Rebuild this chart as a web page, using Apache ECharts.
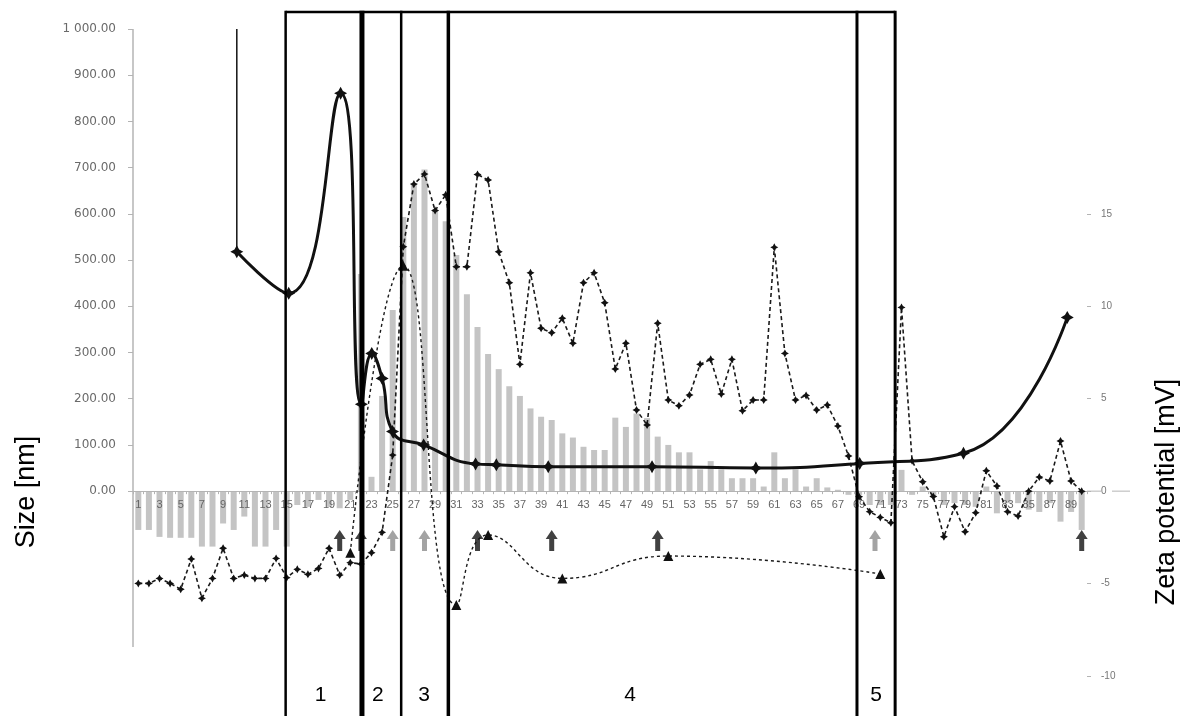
<!DOCTYPE html>
<html>
<head>
<meta charset="utf-8">
<script src="https://cdn.jsdelivr.net/npm/echarts@6/dist/echarts.min.js"></script>
<style>
html,body{margin:0;padding:0;background:#ffffff;}
#main{width:1184px;height:716px;}
</style>
</head>
<body>
<div id="main"></div>
<script>
// ---------------- data ----------------
const categories = ['1','2','3','4','5','6','7','8','9','10','11','12','13','14','15','16','17','18','19','20',
  '21','22','23','24','25','26','27','28','29','30','31','32','33','34','35','36','37','38','39','40',
  '41','42','43','44','45','46','47','48','49','50','51','52','53','54','55','56','57','58','59','60',
  '61','62','63','64','65','66','67','68','69','70','71','72','73','74','75','76','77','78','79','80',
  '81','82','83','84','85','86','87','88','89','90'];

// grey bars (left axis, nm)
const barValues = [-84,-84,-99,-101,-101,-101,-120,-120,-70,-84,
  -55,-120,-120,-84,-120,-30,-34,-19,-34,-37,
  -19,470,31,206,392,593,664,696,608,584,
  511,426,355,297,264,227,206,179,161,154,
  125,116,96,89,89,159,139,168,158,118,
  100,84,84,47,65,47,28,28,28,10,
  84,28,47,10,28,8,3,-8,-8,-30,
  -30,-30,46,-8,10,-10,-30,-26,-30,-34,
  10,-48,-26,-26,-40,-45,-26,-66,-45,-84];

// dashed line with star markers (right axis, mV), one value per category
const zetaFractions = [-4.99,-4.99,-4.72,-4.99,-5.31,-3.67,-5.80,-4.72,-3.09,-4.72,
  -4.54,-4.72,-4.72,-3.64,-4.68,-4.23,-4.50,-4.18,-3.09,-4.54,
  -3.87,-3.94,-3.33,-2.23,1.95,13.22,16.61,17.15,15.18,16.03,
  12.14,12.14,17.13,16.83,12.95,11.27,6.86,11.81,8.81,8.57,
  9.35,8.00,11.27,11.81,10.19,6.61,8.00,4.39,3.58,9.08,
  4.93,4.62,5.20,6.86,7.13,5.25,7.13,4.35,4.93,4.93,
  13.19,7.45,4.93,5.18,4.39,4.66,3.52,1.90,-0.30,-1.11,
  -1.42,-1.71,9.94,1.64,0.51,-0.29,-2.47,-0.84,-2.20,-1.17,
  1.10,0.28,-1.11,-1.35,0.00,0.76,0.55,2.71,0.55,-0.01];

// dashed smooth line with triangles (right axis, mV), at category positions
const zetaPoolX = [21, 26, 31, 34, 41, 51, 71];
const zetaPoolY = [-3.33, 12.19, -6.16, -2.37, -4.72, -3.51, -4.48];

// solid smooth size line (left axis, nm), on its own x scale
const sizeX = [10, 15, 20, 22, 23, 24, 25, 28, 33, 35, 40, 50, 60, 70, 80, 90];
const sizeY = [518, 428, 861, 188, 298, 244, 129, 100, 59, 57, 53, 53, 50, 60, 82, 376];
const sizeErrX = 10;
const sizeErrTop = 1000;

// arrows (category positions) and their level on the zeta axis
const arrowsBlack = [20, 22, 33, 40, 50, 90];
const arrowsGrey = [25, 28, 70.5];
const arrowLevel = -2.67;

// region boxes (category positions)
const regionEdges = [14.9, 22.1, 25.8, 30.25, 68.8, 72.4];
const regionNames = ['1', '2', '3', '4', '5'];
const regionLabelAt = [18.2, 23.6, 27.95, 47.4, 70.6];

// tick labels
const sizeTicks = [0, 100, 200, 300, 400, 500, 600, 700, 800, 900, 1000];
const zetaTicks = [-10, -5, 0, 5, 10, 15];
const sizeTitle = 'Size [nm]';
const zetaTitle = 'Zeta potential [mV]';

// ---------------- chart ----------------
const FONT = '"Liberation Sans", Arial, sans-serif';
const WIDE = '"DejaVu Sans", sans-serif';
const AXIS_GREY = '#b4b4b4';
const starPath = 'path://M5,0 L6.8,3.2 L10,5 L6.8,6.8 L5,10 L3.2,6.8 L0,5 L3.2,3.2 Z';
const arrowPath = 'path://M6,0 L12,9 L8.5,9 L8.5,21 L3.5,21 L3.5,9 L0,9 Z';
const sizeAxisLineEnd = -337;   // where the drawn size-axis line stops

function fmtSize(v) {
  if (v < 0) return '';
  const s = v.toFixed(2);
  const parts = s.split('.');
  const intPart = parts[0].replace(/\B(?=(\d{3})+(?!\d))/g, ' ');
  return intPart + '.' + parts[1];
}

const chart = echarts.init(document.getElementById('main'), null, {renderer: 'canvas'});

const option = {
  animation: false,
  backgroundColor: '#ffffff',
  textStyle: {fontFamily: FONT},
  grid: {left: 133, top: 29, width: 954, height: 647, containLabel: false},
  xAxis: [
    {
      type: 'category', data: categories, position: 'bottom', z: 2, offset: 0,
      axisLine: {onZero: false, lineStyle: {color: AXIS_GREY, width: 1}},
      axisTick: {show: true, interval: 0, length: 3, lineStyle: {color: AXIS_GREY}},
      axisLabel: {interval: 1, fontSize: 11, color: '#666666', margin: 8, fontFamily: FONT},
      splitLine: {show: false}
    },
    {type: 'value', min: 0, max: 91.9, show: false, axisLine: {onZero: false}},
    {type: 'value', min: 0.5, max: 90.5, show: false, axisLine: {onZero: false}}
  ],
  yAxis: [
    {
      type: 'value', min: -400, max: 1000, interval: 100, position: 'left',
      axisLine: {show: false, onZero: false},
      axisTick: {show: true, length: 5, customValues: sizeTicks, lineStyle: {color: AXIS_GREY}},
      axisLabel: {customValues: sizeTicks, formatter: fmtSize, fontSize: 12, color: '#6a6a6a', margin: 17, fontFamily: WIDE},
      splitLine: {show: false}
    },
    {
      type: 'value', min: -10, max: 25, interval: 5, position: 'right',
      axisLine: {show: false, onZero: false},
      axisTick: {show: true, length: 4, customValues: zetaTicks, lineStyle: {color: AXIS_GREY}},
      axisLabel: {customValues: zetaTicks, formatter: v => (v >= -10 && v <= 15 ? String(v) : ''), fontSize: 10, color: '#777777', margin: 14, fontFamily: FONT},
      splitLine: {show: false}
    }
  ],
  series: [
    {
      type: 'bar', xAxisIndex: 0, yAxisIndex: 0, data: barValues, barWidth: 6, z: 1,
      itemStyle: {color: '#c4c4c4'}
    },
    {
      type: 'line', xAxisIndex: 0, yAxisIndex: 1, data: zetaFractions, z: 3,
      symbol: starPath, symbolSize: 8, showAllSymbol: true,
      lineStyle: {color: '#1a1a1a', width: 1.6, type: [4, 3]},
      itemStyle: {color: '#111111'}
    },
    {
      type: 'line', xAxisIndex: 2, yAxisIndex: 1, z: 3, smooth: true,
      data: zetaPoolX.map((x, i) => [x, zetaPoolY[i]]),
      symbol: 'triangle', symbolSize: 10,
      lineStyle: {color: '#1a1a1a', width: 1.4, type: [3, 3]},
      itemStyle: {color: '#111111'}
    },
    {
      type: 'line', xAxisIndex: 1, yAxisIndex: 0, z: 4, symbol: 'none',
      data: [[sizeErrX, sizeErrTop], [sizeErrX, sizeY[0]]],
      lineStyle: {color: '#111111', width: 1.5}
    },
    {
      type: 'line', xAxisIndex: 1, yAxisIndex: 0, z: 4, smooth: true,
      data: sizeX.map((x, i) => [x, sizeY[i]]),
      symbol: starPath, symbolSize: 13,
      lineStyle: {color: '#111111', width: 3},
      itemStyle: {color: '#111111'}
    },
    {
      type: 'scatter', xAxisIndex: 2, yAxisIndex: 1, z: 5,
      data: arrowsBlack.map(x => [x, arrowLevel]),
      symbol: arrowPath, symbolSize: [12, 21],
      itemStyle: {color: '#111111'}
    },
    {
      type: 'scatter', xAxisIndex: 2, yAxisIndex: 1, z: 5,
      data: arrowsGrey.map(x => [x, arrowLevel]),
      symbol: arrowPath, symbolSize: [12, 21],
      itemStyle: {color: '#8c8c8c'}
    }
  ]
};

chart.setOption(option);

// move the category axis up to the zero line of the size axis
const yZero = chart.convertToPixel({yAxisIndex: 0}, 0);
const yBottom = chart.convertToPixel({yAxisIndex: 0}, -400);
chart.setOption({xAxis: [{offset: -(yBottom - yZero)}]});

// region boxes, labels and axis titles (positions through the axis scale)
const toPx = v => chart.convertToPixel({xAxisIndex: 2}, v);
const plotLeft = toPx(0.5), plotRight = toPx(90.5);
const edgeWidths = [2.5, 5, 2.5, 3.5, 3, 3];
const topY = 12, botY = 722;
const gfx = [];
// size axis line (stops a little above the plot bottom, as in the original)
gfx.push({
  type: 'line', z: 1,
  shape: {x1: plotLeft, y1: chart.convertToPixel({yAxisIndex: 0}, 1000), x2: plotLeft, y2: chart.convertToPixel({yAxisIndex: 0}, sizeAxisLineEnd)},
  style: {stroke: AXIS_GREY, lineWidth: 1.5}
});
// zero line continuing past the right axis, on both sides of its "0" label
gfx.push({type: 'line', z: 1, shape: {x1: plotRight, y1: yZero, x2: plotRight + 14, y2: yZero}, style: {stroke: AXIS_GREY, lineWidth: 1}});
gfx.push({type: 'line', z: 1, shape: {x1: plotRight + 25, y1: yZero, x2: plotRight + 43, y2: yZero}, style: {stroke: AXIS_GREY, lineWidth: 1}});
gfx.push({
  type: 'line', z: 100,
  shape: {x1: toPx(regionEdges[0]), y1: topY, x2: toPx(regionEdges[regionEdges.length - 1]), y2: topY},
  style: {stroke: '#000000', lineWidth: 2.5}
});
regionEdges.forEach((e, i) => {
  gfx.push({
    type: 'line', z: 100,
    shape: {x1: toPx(e), y1: topY - 1.25, x2: toPx(e), y2: botY},
    style: {stroke: '#000000', lineWidth: edgeWidths[i]}
  });
});
regionLabelAt.forEach((p, i) => {
  gfx.push({
    type: 'text', z: 100, x: toPx(p), y: 695,
    style: {text: regionNames[i], fontSize: 21, fontFamily: FONT, fill: '#000000',
            align: 'center', verticalAlign: 'middle', textAlign: 'center', textVerticalAlign: 'middle'}
  });
});
gfx.push({
  type: 'text', z: 100, x: 27, y: 492, rotation: Math.PI / 2,
  style: {text: sizeTitle, fontSize: 27, fontFamily: FONT, fill: '#000000',
          align: 'center', verticalAlign: 'middle', textAlign: 'center', textVerticalAlign: 'middle'}
});
gfx.push({
  type: 'text', z: 100, x: 1167, y: 492, rotation: Math.PI / 2,
  style: {text: zetaTitle, fontSize: 27, fontFamily: FONT, fill: '#000000',
          align: 'center', verticalAlign: 'middle', textAlign: 'center', textVerticalAlign: 'middle'}
});
chart.setOption({graphic: gfx});
</script>
</body>
</html>
